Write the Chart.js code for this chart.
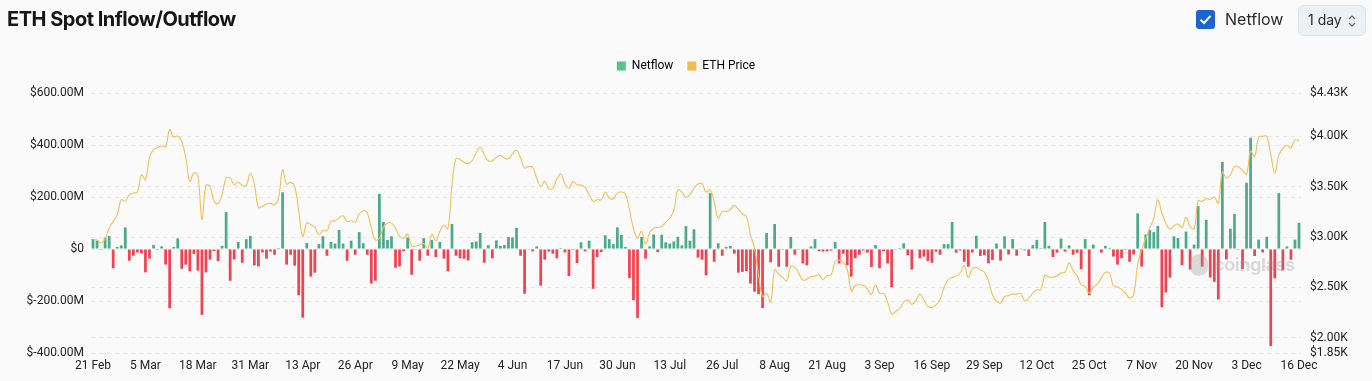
<!DOCTYPE html>
<html>
<head>
<meta charset="utf-8">
<script src="https://cdn.jsdelivr.net/npm/chart.js@4.4.1/dist/chart.umd.min.js"></script>
<style>
  html, body { margin: 0; padding: 0; background: #fafafa; }
  body { width: 1372px; height: 381px; position: relative; overflow: hidden; font-family: Inter, "Noto Sans", sans-serif; }
  #wrap { position: absolute; left: 0; top: 0; width: 1372px; height: 381px; }
  h1 { position: absolute; left: 7px; top: 7px; margin: 0; font-size: 20px; font-weight: 700; letter-spacing: -0.5px; color: #161616; }
  .check { position: absolute; left: 1196px; top: 10px; width: 19px; height: 19px; border-radius: 3px; background: #1a66d0; }
  .check svg { position: absolute; left: 3px; top: 3px; }
  .nf { position: absolute; left: 1225px; top: 9px; font-size: 16px; color: #2a2a2a; }
  .sel { position: absolute; left: 1298px; top: 5px; width: 68px; height: 31px; border: 1px solid #dfe3e8; border-radius: 6px; background: #eef1f4; box-sizing: border-box; }
  .sel span { position: absolute; left: 9px; top: 5px; font-size: 14px; color: #2a2a2a; }
  .sel svg { position: absolute; left: 49px; top: 8px; }
  .wm { position: absolute; left: 1190px; top: 254px; color: rgba(150,150,150,0.32); font: 700 18px Inter, sans-serif; letter-spacing: -0.4px; }
  .wm i { display: inline-block; width: 18px; height: 22px; border-radius: 9px; background: rgba(150,150,150,0.32); vertical-align: -5px; margin-right: 6px; }
</style>
</head>
<body>
<div id="wrap"><canvas id="chart"></canvas></div>
<h1>ETH Spot Inflow/Outflow</h1>
<div class="check"><svg width="13" height="13" viewBox="0 0 13 13"><path d="M1.5 6.8 L5 10 L11.5 2.8" stroke="#fff" stroke-width="2" fill="none"/></svg></div>
<div class="nf">Netflow</div>
<div class="sel"><span>1 day</span><svg width="8" height="14" viewBox="0 0 8 14"><path d="M1 5 L4 2 L7 5 M1 9 L4 12 L7 9" stroke="#666" stroke-width="1.2" fill="none"/></svg></div>
<div class="wm"><i></i>coinglass</div>
<script>
// x axis: one category per day, 21 Feb .. 16 Dec
const startDay = new Date(2024, 1, 21);
const dayCount = 300;
const monthNames = ['Jan','Feb','Mar','Apr','May','Jun','Jul','Aug','Sep','Oct','Nov','Dec'];
const categories = [];
for (let i = 0; i < dayCount; i++) {
    const d = new Date(startDay.getFullYear(), startDay.getMonth(), startDay.getDate() + i);
    categories.push(d.getDate() + ' ' + monthNames[d.getMonth()]);
}

const xTickLabels = ['21 Feb','5 Mar','18 Mar','31 Mar','13 Apr','26 Apr','9 May','22 May','4 Jun','17 Jun','30 Jun',
    '13 Jul','26 Jul','8 Aug','21 Aug','3 Sep','16 Sep','29 Sep','12 Oct','25 Oct','7 Nov','20 Nov','3 Dec','16 Dec'];
const priceTicks = [1850, 2000, 2500, 3000, 3500, 4000, 4430];

// daily netflow, $M
const netflow = [
    38, 33, -3, 44, 50, -74, 8, 14, 83, -45, -26, -13, -17, -90, -37, 15, -3, 10, -60, -228,
    8, 41, -76, -60, -86, -19, -83, -253, -90, -41, -8, -47, 12, 142, -122, -40, 27, -53, 38, 50,
    -63, -67, -13, -37, -10, -22, 4, 218, -60, -22, -64, -178, -264, 23, -106, -91, 19, 49, -26, 27,
    21, 73, 21, -45, 32, -22, 65, 22, -22, -133, -122, 212, 104, 35, 49, -72, -67, -9, 44, -99,
    -3, -45, 42, -26, 35, -31, 27, -37, -86, 96, -26, -36, -37, -44, 26, 29, 62, -53, 15, -36,
    33, 12, 15, 46, 45, 81, -26, -172, -3, -9, 10, -141, -41, -10, -18, -36, 4, -13, -104, -3,
    -54, 26, -9, 32, -153, -31, -12, 53, 38, 19, 83, 54, 8, -112, -197, -265, 46, -37, 10, 56,
    -12, 55, 26, 21, 29, 47, 14, 88, 32, 76, -33, -41, -101, 215, -49, 22, -26, 8, 12, -18,
    -91, -88, -85, -133, -164, -174, -227, 62, -51, 96, -68, -3, -68, 46, -22, -3, -56, -63, 10, 38,
    -8, -10, -9, -6, 27, -56, -18, -62, -106, -35, -22, -6, -14, -69, 15, -74, -8, -56, -147, -3,
    4, 22, -24, -79, -2, -36, -29, -46, -53, -10, -22, 19, 19, 104, -14, -6, -49, -68, -14, 51,
    -27, -24, -55, -42, 21, -45, 49, -21, 38, -26, 3, -5, -27, 15, 35, 4, 104, 12, -31, -14,
    40, -10, 14, -22, -14, -78, 38, -178, 17, -2, -14, 12, 4, -29, -60, -35, -3, -49, -21, 137,
    -68, 56, 73, 65, 88, -224, -167, -110, 49, 42, -62, 67, -79, 17, 165, -68, 112, -110, -126, -194,
    335, -40, 78, 135, -3, -77, 255, 428, -27, 36, -13, 47, -373, -113, 215, -82, 10, -41, 36, 101
];

// daily ETH price, $
const ethPrice = [
    2974, 2971, 2941, 2984, 3090, 3156, 3222, 3371, 3355, 3421, 3437, 3447, 3619, 3570, 3791, 3868, 3887, 3904, 3897, 4066,
    3993, 4003, 3950, 3785, 3553, 3636, 3603, 3175, 3513, 3503, 3355, 3331, 3421, 3586, 3586, 3520, 3547, 3513, 3513, 3636,
    3527, 3295, 3305, 3328, 3335, 3321, 3388, 3669, 3527, 3543, 3503, 3255, 3007, 3139, 3123, 3096, 3024, 3067, 3063, 3156,
    3163, 3189, 3212, 3156, 3163, 3149, 3229, 3262, 3239, 3090, 2971, 2990, 3096, 3139, 3139, 3090, 3007, 2990, 3030, 2914,
    2911, 2924, 2937, 2891, 3027, 2964, 3057, 3120, 3083, 3520, 3778, 3768, 3742, 3729, 3758, 3835, 3894, 3818, 3758, 3758,
    3791, 3811, 3785, 3778, 3825, 3864, 3785, 3686, 3699, 3695, 3586, 3503, 3553, 3480, 3487, 3576, 3626, 3527, 3487, 3553,
    3520, 3517, 3494, 3421, 3355, 3371, 3371, 3447, 3388, 3381, 3437, 3447, 3427, 3272, 3083, 2990, 3057, 2931, 3040, 3090,
    3096, 3106, 3149, 3189, 3262, 3470, 3447, 3394, 3421, 3487, 3527, 3530, 3447, 3470, 3355, 3189, 3255, 3255, 3272, 3315,
    3278, 3232, 3206, 3024, 2891, 2626, 2411, 2444, 2355, 2676, 2633, 2600, 2567, 2709, 2702, 2643, 2573, 2583, 2606, 2613,
    2626, 2577, 2620, 2626, 2759, 2772, 2749, 2683, 2467, 2520, 2527, 2520, 2487, 2428, 2527, 2441, 2441, 2355, 2236, 2262,
    2289, 2355, 2375, 2335, 2368, 2434, 2378, 2312, 2302, 2328, 2378, 2500, 2577, 2600, 2613, 2646, 2719, 2600, 2686, 2699,
    2673, 2653, 2567, 2428, 2362, 2345, 2408, 2421, 2434, 2434, 2444, 2368, 2395, 2444, 2477, 2477, 2620, 2603, 2603, 2616,
    2643, 2653, 2742, 2666, 2616, 2527, 2510, 2444, 2504, 2534, 2593, 2650, 2643, 2517, 2504, 2481, 2441, 2395, 2428, 2730,
    2875, 2984, 3090, 3189, 3371, 3239, 3139, 3080, 3113, 3129, 3096, 3196, 3106, 3083, 3361, 3355, 3381, 3374, 3398, 3338,
    3646, 3586, 3619, 3702, 3695, 3659, 3626, 3851, 3801, 3993, 4000, 4000, 3818, 3636, 3811, 3878, 3911, 3884, 3964, 3957
];

const GREEN = '#4caa8c';
const RED = '#ef4450';
const LINE = '#f0c05a';
const GRID = '#e7e7e7';

Chart.defaults.font.family = 'Roboto';
Chart.defaults.font.size = 12;
Chart.defaults.color = '#222';

// push the plot area down below the legend
const legendSpacer = {
    id: 'legendSpacer',
    beforeInit(chart) {
        const fit = chart.legend.fit;
        chart.legend.fit = function () {
            fit.bind(chart.legend)();
            this.height += 11;
        };
    }
};

new Chart(document.getElementById('chart'), {
    data: {
        labels: categories,
        datasets: [
            {
                type: 'bar',
                label: 'Netflow',
                data: netflow,
                yAxisID: 'y',
                order: 2,
                backgroundColor: netflow.map(v => v >= 0 ? GREEN : RED),
                barPercentage: 0.68,
                categoryPercentage: 1,
            },
            {
                type: 'line',
                label: 'ETH Price',
                data: ethPrice,
                yAxisID: 'y1',
                order: 1,
                borderColor: LINE,
                borderWidth: 1.1,
                pointRadius: 0,
                tension: 0.4,
                fill: false,
            },
        ],
    },
    options: {
        responsive: true,
        maintainAspectRatio: false,
        animation: false,
        layout: { padding: { top: 46 } },
        plugins: {
            tooltip: { enabled: false },
            legend: {
                labels: {
                    boxWidth: 9,
                    boxHeight: 9,
                    padding: 14,
                    color: '#333',
                    font: { size: 12 },
                    generateLabels: () => [
                        { text: 'Netflow', fillStyle: '#55c48c', strokeStyle: '#55c48c', lineWidth: 0, datasetIndex: 0 },
                        { text: 'ETH Price', fillStyle: '#eebd4f', strokeStyle: '#eebd4f', lineWidth: 0, datasetIndex: 1 },
                    ],
                },
            },
        },
        scales: {
            x: {
                offset: true,
                grid: { display: false, drawTicks: false },
                border: { display: false },
                ticks: {
                    autoSkip: false,
                    maxRotation: 0,
                    minRotation: 0,
                    padding: 6,
                    callback(v) {
                        const l = this.getLabelForValue(v);
                        return xTickLabels.includes(l) ? l : '';
                    },
                },
                afterFit(s) { s.height = 28; },
            },
            y: {
                position: 'left',
                min: -400,
                max: 600,
                ticks: {
                    stepSize: 200,
                    padding: 7,
                    callback: v => v === 0 ? '$0' : '$' + v.toFixed(2) + 'M',
                },
                grid: { color: GRID, drawTicks: false },
                border: { display: false, dash: [4, 4] },
                afterFit(s) { s.width = 91; },
            },
            y1: {
                position: 'right',
                min: 1850,
                max: 4430,
                afterBuildTicks(s) { s.ticks = priceTicks.map(v => ({ value: v })); },
                ticks: {
                    autoSkip: false,
                    padding: 9,
                    callback: v => '$' + (v / 1000).toFixed(2) + 'K',
                },
                grid: { color: GRID, drawTicks: false },
                border: { display: false, dash: [4, 4] },
                afterFit(s) { s.width = 71; },
            },
        },
    },
    plugins: [legendSpacer],
});
</script>
</body>
</html>
